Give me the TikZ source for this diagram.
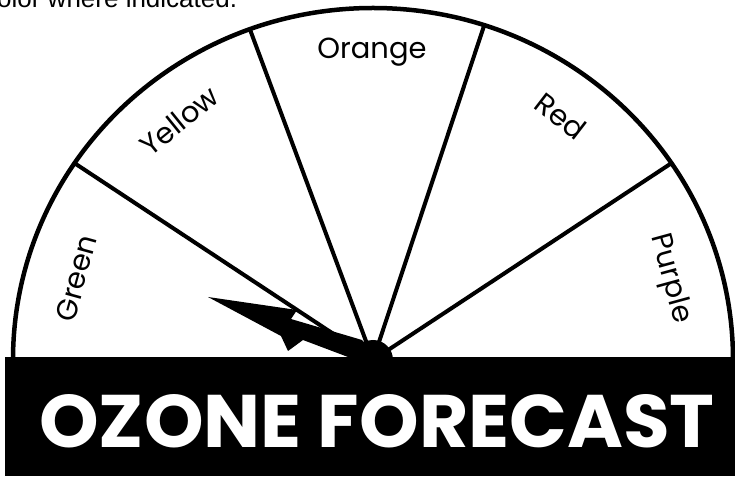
\documentclass[tikz,border=0pt]{standalone}
\usepackage{fontspec}
\usepackage{graphicx}
\newfontfamily\dialfont{Poppins}
\newfontfamily\notefont{Liberation Sans}
\usetikzlibrary{calc}

\begin{document}
\begin{tikzpicture}[x=1pt, y=1pt,
  rim/.style={line width=4.5pt},
  spoke/.style={line width=4pt},
  lbl/.style={font=\dialfont\fontsize{29}{30}\selectfont, inner sep=0pt},
  band/.style={fill=black}]
  \clip (0,0) rectangle (735,476);
  \useasboundingbox (0,0) rectangle (735,476);
  % cut-off instruction line at the top
  \node[font=\notefont\fontsize{26}{28}\selectfont, anchor=base west, inner sep=0pt] (note) at (-3,468) {olor where indicated.};
  % dial: rim and spokes
  \coordinate (hub) at (373,116);
  \draw[rim] (733,116) arc[start angle=0, end angle=180, x radius=360, y radius=352];
  \foreach \a in {34,72,110,146}
    \draw[spoke] (hub) -- ++(\a:360 and 352);
  % sector labels
  \foreach \a/\name/\txt in {164.6/green/Green, 129/yellow/Yellow, 90.2/orange/Orange, 52.4/red/Red, 15.3/purple/Purple}
    \node[lbl, rotate=\a-90] (\name) at ([shift={(\a:308)}]hub) {\txt};
  % pointer
  \fill (208,179) -- (297,166) -- (291,157) -- (362,136) -- (378,118) -- (356,116) -- (303,136) -- (288,125) -- (281,140) -- cycle;
  \fill (hub) circle (20);
  % title band
  \fill[band] (5,0) rectangle (740,119);
  \node[text=white, inner sep=0pt] (title) at (377,55) {\resizebox{675pt}{53pt}{\dialfont\bfseries OZONE FORECAST}};
\end{tikzpicture}
\end{document}
